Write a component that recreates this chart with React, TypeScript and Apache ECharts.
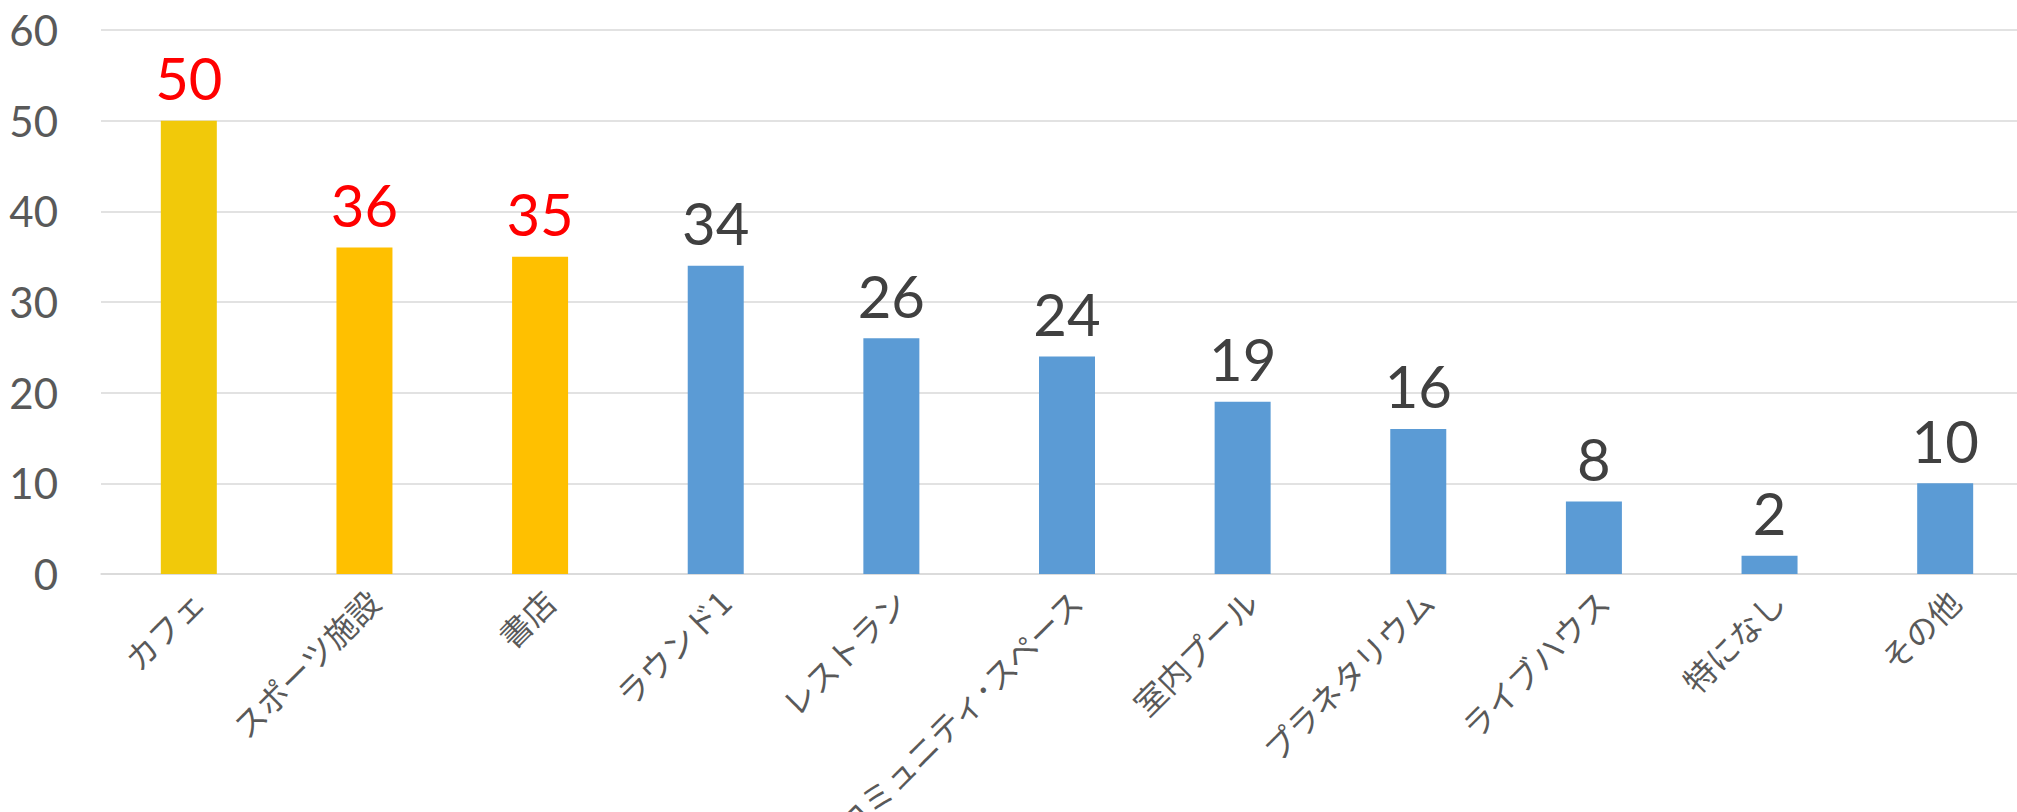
import React, { useEffect, useRef } from "react";
import * as echarts from "echarts";

const categories = [
  "カフェ",
  "スポーツ施設",
  "書店",
  "ラウンド1",
  "レストラン",
  "コミュニティ･スペース",
  "室内プール",
  "プラネタリウム",
  "ライブハウス",
  "特になし",
  "その他",
];
const values = [50, 36, 35, 34, 26, 24, 19, 16, 8, 2, 10];
const yTicks = [0, 10, 20, 30, 40, 50, 60];

const barColor = (i: number) => (i === 0 ? "#F1C90A" : i < 3 ? "#FFC000" : "#5B9BD5");
const labelColor = (i: number) => (i < 3 ? "#FF0000" : "#404040");

export default function App() {
  const ref = useRef<HTMLDivElement>(null);
  useEffect(() => {
    if (!ref.current) return;
    const chart = echarts.init(ref.current, undefined, { renderer: "svg" });
    const data = values.map((v, i) => ({
      value: v,
      itemStyle: { color: barColor(i) },
      label: { color: labelColor(i) },
    }));
    chart.setOption({
      animation: false,
      backgroundColor: "#ffffff",
      grid: {
        left: 101,
        top: 30,
        width: 1932,
        height: 544,
        containLabel: false,
        outerBoundsMode: "none",
      },
      xAxis: {
        type: "category",
        data: categories,
        axisLine: { show: true, lineStyle: { color: "#D9D9D9", width: 1.5 } },
        axisTick: { show: false },
        axisLabel: {
          interval: 0,
          rotate: 45,
          margin: 30,
          padding: [0, -12, 0, 0],
          color: "#595959",
          fontSize: 32,
          fontFamily: "'Noto Sans CJK JP', sans-serif",
        },
      },
      yAxis: {
        type: "value",
        min: yTicks[0],
        max: yTicks[yTicks.length - 1],
        interval: 10,
        axisLine: { show: false },
        axisTick: { show: false },
        splitLine: { lineStyle: { color: "#D9D9D9", width: 1.5 } },
        axisLabel: {
          color: "#595959",
          fontSize: 42,
          fontFamily: "Lato, sans-serif",
          margin: 43,
        },
      },
      series: [
        {
          type: "bar",
          data,
          barWidth: 56,
          label: {
            show: true,
            position: "top",
            distance: 14,
            fontSize: 58,
            fontFamily: "Lato, sans-serif",
          },
        },
      ],
    });
    return () => chart.dispose();
  }, []);
  return (
    <div
      ref={ref}
      style={{ position: "absolute", left: 0, top: 0, width: 2017, height: 812, background: "#fff" }}
    />
  );
}
